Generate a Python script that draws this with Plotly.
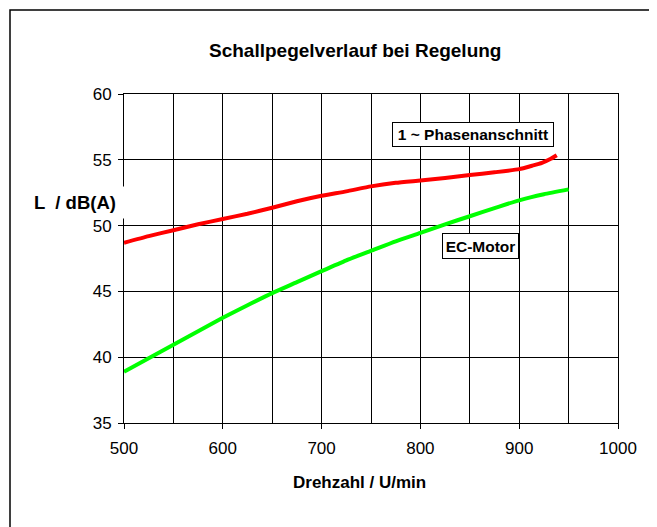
import plotly.graph_objects as go

# ---- data ----
rpm_phase = [500, 525, 550, 575, 600, 625, 650, 675, 700, 725, 750, 775, 800,
             825, 850, 875, 900, 913, 923, 932, 938]
level_phase = [48.7, 49.2, 49.65, 50.1, 50.5, 50.9, 51.36, 51.85, 52.27, 52.6,
               52.98, 53.25, 53.43, 53.62, 53.84, 54.05, 54.29, 54.55, 54.77,
               55.08, 55.35]

rpm_ec = [500, 525, 550, 575, 600, 625, 650, 675, 700, 725, 750, 775, 800,
          825, 850, 875, 900, 925, 950]
level_ec = [38.9, 39.92, 40.95, 41.97, 43.0, 43.95, 44.87, 45.7, 46.54, 47.36,
            48.08, 48.8, 49.44, 50.1, 50.71, 51.33, 51.92, 52.38, 52.75]

x_ticks = [500, 600, 700, 800, 900, 1000]
y_ticks = [35, 40, 45, 50, 55, 60]

title_text = "Schallpegelverlauf bei Regelung"
x_title = "Drehzahl / U/min"
y_title = "L  / dB(A)"
label_phase = "1 ~ Phasenanschnitt"
label_ec = "EC-Motor"

# ---- layout geometry (figure pixels; page body adds an 8px offset) ----
W, H = 649, 519
L, R, T, B = 116, 610, 86, 415
pw, ph = R - L, B - T


def px(xp):
    return (xp - L) / pw


def py(yp):
    return (B - yp) / ph


FONT = "Liberation Sans, Arial, sans-serif"

fig = go.Figure()
fig.add_trace(go.Scatter(x=rpm_phase, y=level_phase, mode="lines",
                         line=dict(color="#FF0000", width=4, shape="spline", smoothing=0.5),
                         hoverinfo="skip", showlegend=False))
fig.add_trace(go.Scatter(x=rpm_ec, y=level_ec, mode="lines",
                         line=dict(color="#00FF00", width=4, shape="spline", smoothing=0.5),
                         hoverinfo="skip", showlegend=False))

fig.update_layout(
    width=W, height=H,
    margin=dict(l=L, r=W - R, t=T, b=H - B, autoexpand=False),
    paper_bgcolor="white", plot_bgcolor="white",
    font=dict(family=FONT, size=17, color="black"),
    showlegend=False,
)

fig.update_xaxes(
    range=[500, 1000], tickvals=x_ticks, ticks="outside", ticklen=5,
    tickcolor="black", tickwidth=1, ticklabelstandoff=5,
    showgrid=True, gridcolor="black", gridwidth=1,
    minor=dict(dtick=50, showgrid=True, gridcolor="black", gridwidth=1, ticks=""),
    showline=True, linecolor="black", linewidth=1, mirror=True,
    zeroline=False, tickfont=dict(size=17, family=FONT),
)
fig.update_yaxes(
    range=[35, 60], tickvals=y_ticks, ticks="outside", ticklen=5,
    tickcolor="black", tickwidth=1, ticklabelstandoff=3,
    showgrid=True, gridcolor="black", gridwidth=1,
    showline=True, linecolor="black", linewidth=1, mirror=True,
    zeroline=False, tickfont=dict(size=17, family=FONT),
)

annotations = [
    dict(text="<b>" + title_text + "</b>", xref="paper", yref="paper",
         x=px(346.5), y=py(43), xanchor="center", yanchor="middle",
         showarrow=False, font=dict(size=19, family=FONT)),
    dict(text="<b>" + x_title + "</b>", xref="paper", yref="paper",
         x=px(351), y=py(474), xanchor="center", yanchor="middle",
         showarrow=False, font=dict(size=17, family=FONT)),
    dict(text="<b>" + y_title + "</b>", xref="paper", yref="paper",
         x=px(67), y=py(194), xanchor="center", yanchor="middle",
         width=106, height=31, bgcolor="white", borderpad=0,
         showarrow=False, font=dict(size=18.5, family=FONT)),
    dict(text="<b>" + label_phase + "</b>", xref="x", yref="y",
         x=853, y=56.95, xanchor="center", yanchor="middle",
         width=158, height=21, bgcolor="white", bordercolor="black",
         borderwidth=1, borderpad=1,
         showarrow=False, font=dict(size=15.5, family=FONT)),
    dict(text="<b>" + label_ec + "</b>", xref="x", yref="y",
         x=861, y=48.47, xanchor="center", yanchor="middle",
         width=73, height=22, bgcolor="white", bordercolor="black",
         borderwidth=1, borderpad=1,
         showarrow=False, font=dict(size=15.5, family=FONT)),
]
fig.update_layout(annotations=annotations)

# outer chart frame (bottom edge lies just below the visible window)
fig.add_shape(type="rect", xref="paper", yref="paper",
              x0=px(2), x1=px(645), y0=py(521), y1=py(2),
              line=dict(color="black", width=1.5), fillcolor="rgba(0,0,0,0)",
              layer="above")

fig.write_html("out.html")
